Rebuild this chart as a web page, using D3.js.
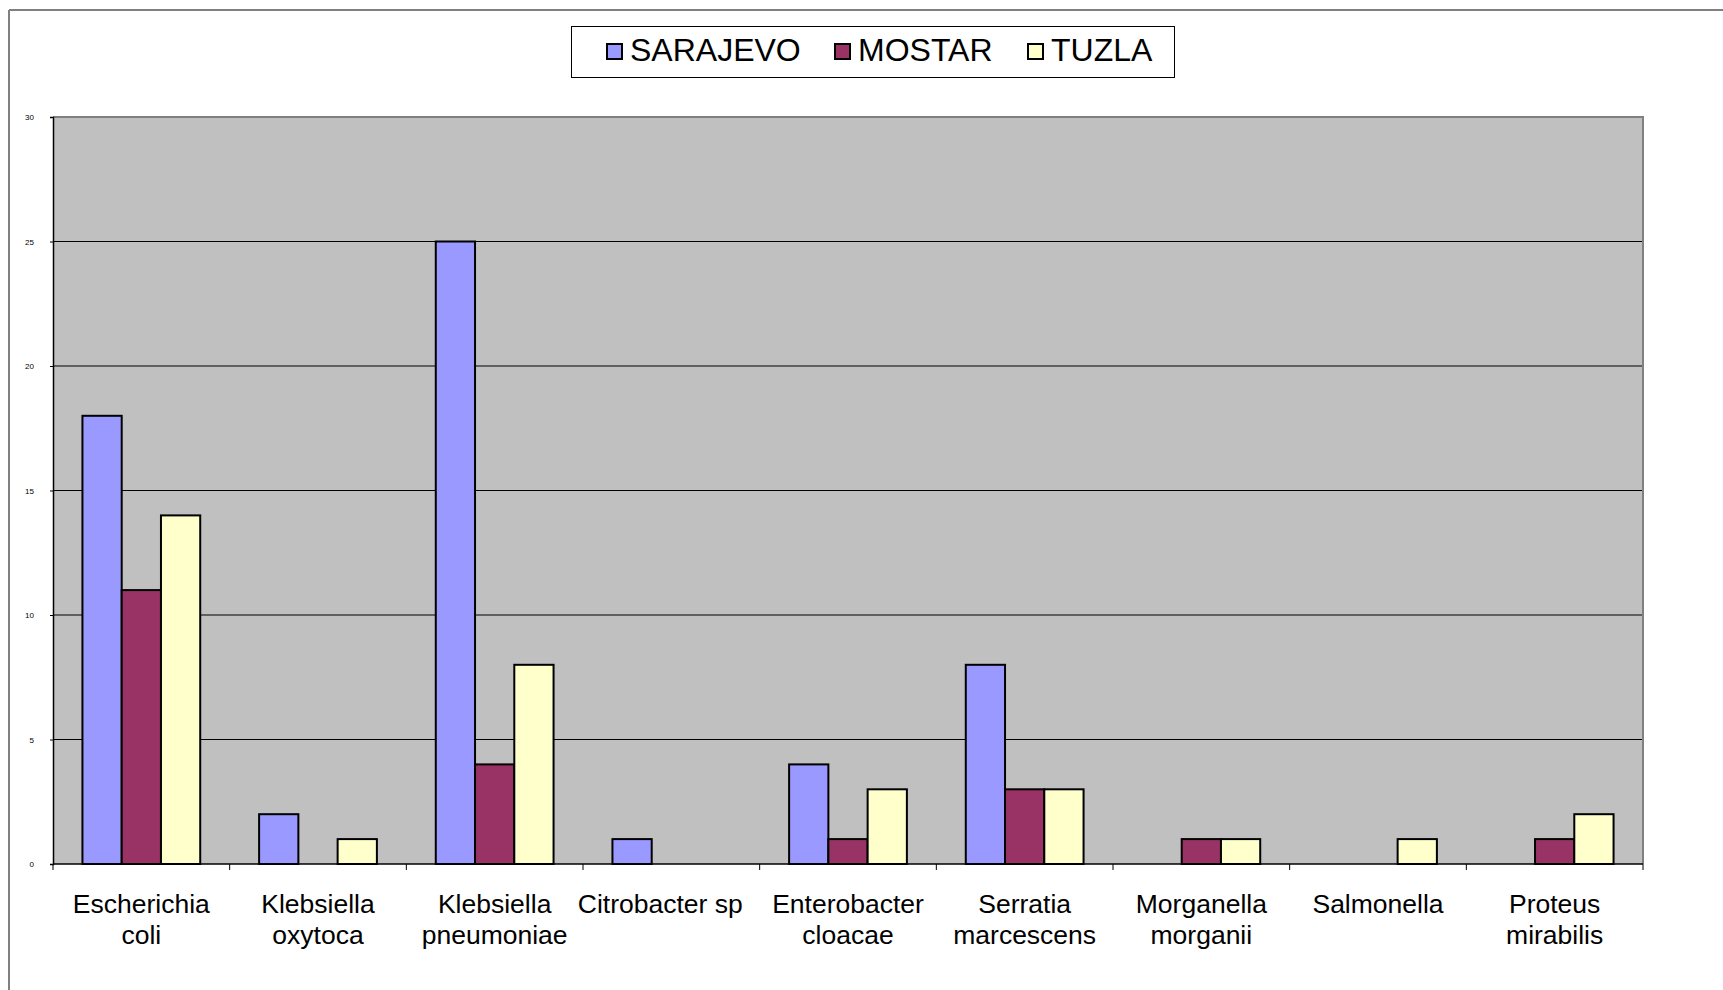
<!DOCTYPE html>
<html>
<head>
	<meta charset="utf-8">
	<title>Bacteria by city</title>
	<script src="https://cdn.jsdelivr.net/npm/d3@7/dist/d3.min.js"></script>
	<style>
		body { margin: 0; background: #fff; }
		svg text { font-family: "Liberation Sans", Arial, sans-serif; }
	</style>
</head>
<body>
	<svg id="chart" width="1723" height="990"></svg>
	<script>
		// data
		var categories = [
			["Escherichia", "coli"],
			["Klebsiella", "oxytoca"],
			["Klebsiella", "pneumoniae"],
			["Citrobacter sp\u00a0\u00a0\u00a0"],   // label carries trailing spaces in the original
			["Enterobacter", "cloacae"],
			["Serratia", "marcescens"],
			["Morganella", "morganii"],
			["Salmonella"],
			["Proteus", "mirabilis"]
		];
		var seriesNames = ["SARAJEVO", "MOSTAR", "TUZLA"];
		var sarajevo = [18, 2, 25, 1, 4, 8, 0, 0, 0];
		var mostar   = [11, 0, 4, 0, 1, 3, 1, 0, 1];
		var tuzla    = [14, 1, 8, 0, 3, 3, 1, 1, 2];
		var colors = ["#9999ff", "#993366", "#ffffcc"];
		var yTicks = [0, 5, 10, 15, 20, 25, 30];

		var seriesValues = [sarajevo, mostar, tuzla];

		var plotLeft = 53, plotRight = 1643, plotTop = 117, plotBottom = 864;
		var svg = d3.select("#chart");

		// outer frame (only left and top visible)
		svg.append("line").attr("x1", 9).attr("y1", 10).attr("x2", 1723).attr("y2", 10)
			.attr("stroke", "#808080").attr("stroke-width", 2);
		svg.append("line").attr("x1", 9).attr("y1", 10).attr("x2", 9).attr("y2", 990)
			.attr("stroke", "#808080").attr("stroke-width", 2);

		var x0 = d3.scaleBand().domain(d3.range(categories.length)).range([plotLeft, plotRight]).padding(0);
		var x1 = d3.scaleBand().domain(d3.range(seriesNames.length)).range([0, x0.bandwidth()])
			.paddingInner(0).paddingOuter(0.75);
		var y = d3.scaleLinear().domain([0, 30]).range([plotBottom, plotTop]);

		// plot background
		svg.append("rect").attr("x", plotLeft).attr("y", plotTop)
			.attr("width", plotRight - plotLeft).attr("height", plotBottom - plotTop)
			.attr("fill", "#c0c0c0");

		// gridlines
		svg.append("g").selectAll("line").data(yTicks.filter(function(t){ return t > 0 && t < 30; }))
			.enter().append("line")
			.attr("x1", plotLeft).attr("x2", plotRight)
			.attr("y1", function(d){ return y(d); }).attr("y2", function(d){ return y(d); })
			.attr("stroke", "#000").attr("stroke-width", 1);

		// plot border top and right
		svg.append("path")
			.attr("d", "M" + plotLeft + "," + plotTop + "H" + plotRight + "V" + plotBottom)
			.attr("fill", "none").attr("stroke", "#808080").attr("stroke-width", 2);

		// bars
		var groups = svg.append("g").selectAll("g").data(seriesValues).enter().append("g");
		groups.each(function(vals, si){
			d3.select(this).selectAll("rect")
				.data(vals.map(function(v, ci){ return {v: v, c: ci}; }).filter(function(d){ return d.v > 0; }))
				.enter().append("rect")
				.attr("x", function(d){ return x0(d.c) + x1(si); })
				.attr("y", function(d){ return y(d.v); })
				.attr("width", x1.bandwidth())
				.attr("height", function(d){ return y(0) - y(d.v); })
				.attr("fill", colors[si])
				.attr("stroke", "#000").attr("stroke-width", 2);
		});

		// y axis
		var yAxis = svg.append("g").attr("transform", "translate(" + plotLeft + ",0)")
			.call(d3.axisLeft(y).tickValues(yTicks).tickSize(3).tickPadding(16));
		yAxis.select(".domain").attr("stroke", "#000").attr("stroke-width", 1.5);
		yAxis.selectAll(".tick line").attr("stroke", "#000");
		yAxis.selectAll("text").attr("font-size", 8).attr("fill", "#000")
			.style("font-family", "Liberation Sans, Arial, sans-serif");

		// x axis
		svg.append("line").attr("x1", plotLeft).attr("x2", plotRight).attr("y1", plotBottom).attr("y2", plotBottom)
			.attr("stroke", "#000").attr("stroke-width", 1.5);
		svg.append("g").selectAll("line").data(d3.range(categories.length + 1))
			.enter().append("line")
			.attr("x1", function(i){ return plotLeft + i * x0.step(); })
			.attr("x2", function(i){ return plotLeft + i * x0.step(); })
			.attr("y1", plotBottom).attr("y2", plotBottom + 6)
			.attr("stroke", "#000").attr("stroke-width", 1);

		var labels = svg.append("g").selectAll("text").data(categories).enter().append("text")
			.attr("text-anchor", "middle")
			.attr("font-size", 26.5)
			.attr("fill", "#000")
			.attr("transform", function(d, i){ return "translate(" + (x0(i) + x0.bandwidth() / 2) + ",913)"; });
		labels.selectAll("tspan").data(function(d){ return d; }).enter().append("tspan")
			.attr("x", 0).attr("y", function(d, i){ return i * 31; })
			.text(function(d){ return d; });

		// legend
		var legend = svg.append("g");
		legend.append("rect").attr("x", 571.5).attr("y", 26.5).attr("width", 603).attr("height", 51)
			.attr("fill", "#fff").attr("stroke", "#000").attr("stroke-width", 1);
		var legendX = [606, 834, 1027];
		var items = legend.selectAll("g.item").data(seriesNames).enter().append("g")
			.attr("transform", function(d, i){ return "translate(" + legendX[i] + ",0)"; });
		items.append("rect").attr("x", 1).attr("y", 44).attr("width", 15).attr("height", 15)
			.attr("fill", function(d, i){ return colors[i]; })
			.attr("stroke", "#000").attr("stroke-width", 2);
		items.append("text").attr("x", 24).attr("y", 61)
			.attr("font-size", 32).attr("fill", "#000")
			.text(function(d){ return d; });
	</script>
</body>
</html>
